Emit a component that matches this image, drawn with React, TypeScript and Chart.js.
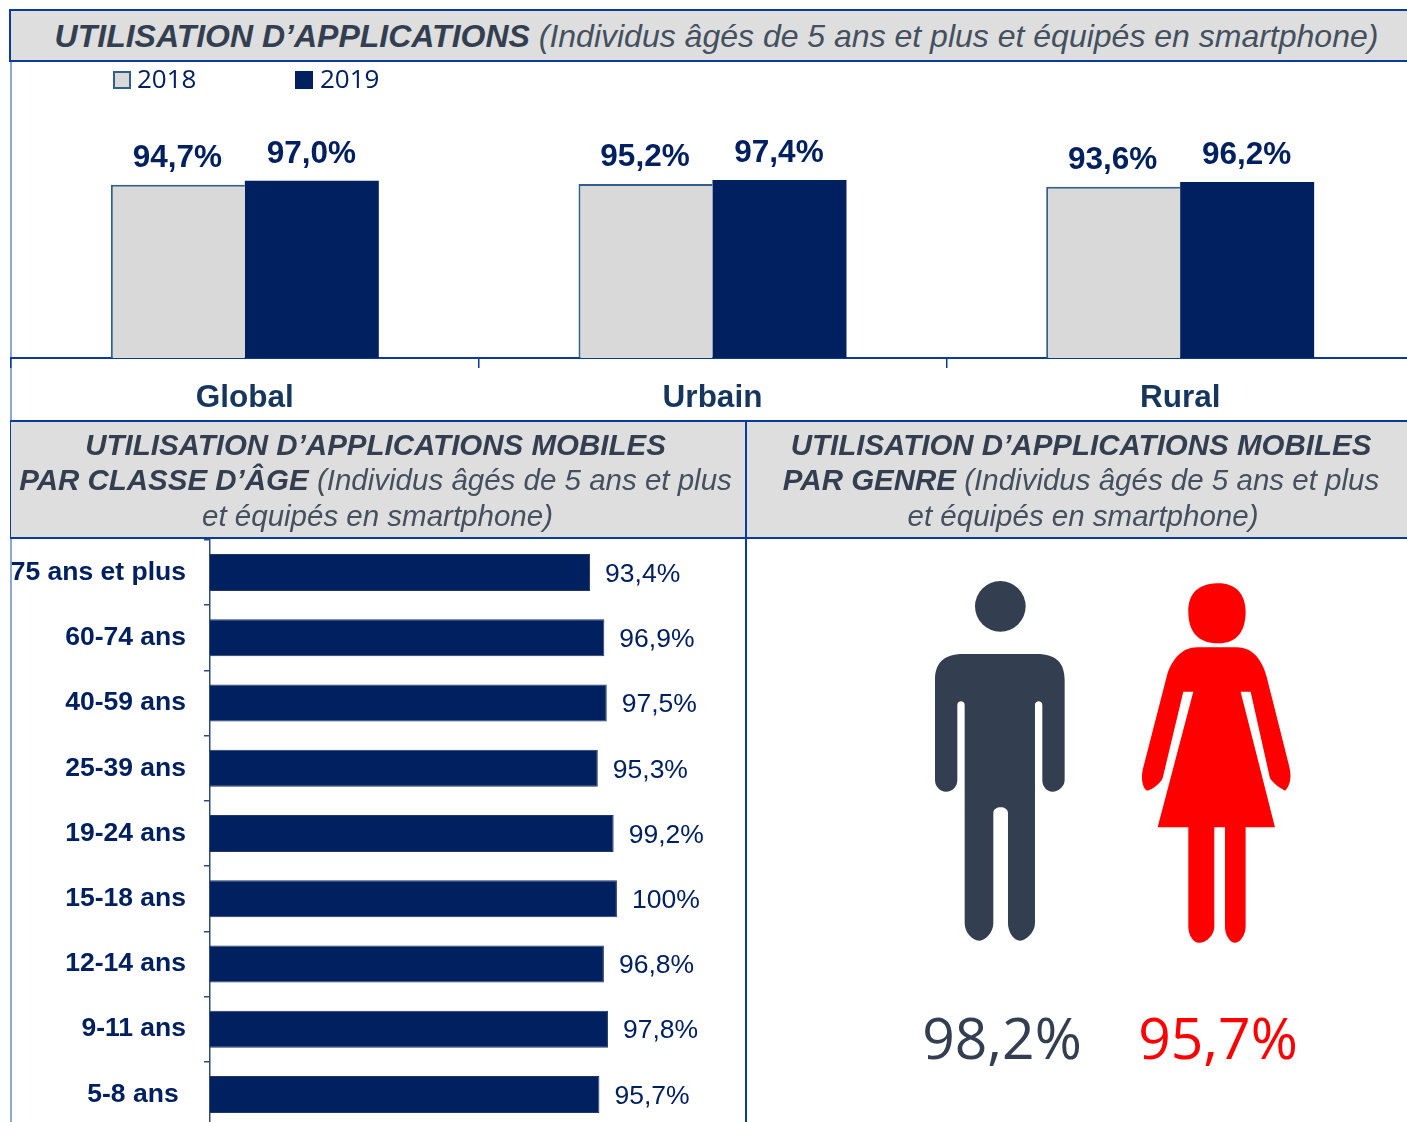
import React, { useEffect, useRef } from "react";
import { Chart, registerables } from "chart.js";

Chart.register(...registerables);

const areas = ["Global", "Urbain", "Rural"];
const values2018 = [94.7, 95.2, 93.6];
const values2019 = [97.0, 97.4, 96.2];
const ageClasses = ["75 ans et plus", "60-74 ans", "40-59 ans", "25-39 ans", "19-24 ans", "15-18 ans", "12-14 ans", "9-11 ans", "5-8 ans "];
const ageValues = [93.4, 96.9, 97.5, 95.3, 99.2, 100, 96.8, 97.8, 95.7];
const legendItems = ["2018", "2019"];
const genderValues = ["98,2%", "95,7%"];

const NAVY = "#002060";
const GREY = "#D9D9D9";
const LINE = "#0A3A9E";
const SLATE = "#333F50";
const SANS = "'Liberation Sans', Arial, sans-serif";

const fmtFr = (v: number, d: number) => v.toFixed(d).replace(".", ",") + "%";

const topLabels = {
  id: "topLabels",
  afterDatasetsDraw(chart: any) {
    const { ctx } = chart;
    ctx.save();
    ctx.font = `bold 31.5px ${SANS}`;
    ctx.fillStyle = NAVY;
    ctx.textAlign = "center";
    ctx.textBaseline = "alphabetic";
    chart.data.datasets.forEach((ds: any, i: number) => {
      chart.getDatasetMeta(i).data.forEach((bar: any, j: number) => {
        ctx.fillText(fmtFr(ds.data[j], 1), bar.x - 0.5, bar.y - 18);
      });
    });
    ctx.restore();
  },
};

const ageLabels = {
  id: "ageLabels",
  afterDatasetsDraw(chart: any) {
    const { ctx } = chart;
    ctx.save();
    ctx.font = `26.5px ${SANS}`;
    ctx.fillStyle = NAVY;
    ctx.textAlign = "left";
    ctx.textBaseline = "middle";
    const ds = chart.data.datasets[0];
    chart.getDatasetMeta(0).data.forEach((bar: any, j: number) => {
      const v = ds.data[j];
      ctx.fillText(v === 100 ? "100%" : fmtFr(v, 1), bar.x + 15, bar.y + 2);
    });
    ctx.restore();
  },
};

const abs = (l: number, t: number, w: number, h: number, extra: React.CSSProperties = {}): React.CSSProperties => ({
  position: "absolute", left: l, top: t, width: w, height: h, ...extra,
});

const HeadLine = ({ top, left, width, bold, rest, size }: { top: number; left: number; width: number; bold: string; rest?: string; size: number }) => (
  <div style={{ position: "absolute", top, left, width, textAlign: "center", whiteSpace: "nowrap", fontFamily: SANS, fontStyle: "italic", fontSize: size, lineHeight: "36px", color: SLATE }}>
    <b>{bold}</b>{rest ? <span style={{ color: "#44505F" }}>{rest}</span> : null}
  </div>
);

export default function App() {
  const topRef = useRef<HTMLCanvasElement>(null);
  const ageRef = useRef<HTMLCanvasElement>(null);

  useEffect(() => {
    const top = new Chart(topRef.current!, {
      type: "bar",
      data: {
        labels: areas,
        datasets: [
          { label: legendItems[0], data: values2018, backgroundColor: GREY, borderColor: "#2F5F8A", borderWidth: { top: 2, left: 2, right: 0, bottom: 0 } as any, borderSkipped: false as any },
          { label: legendItems[1], data: values2019, backgroundColor: NAVY, borderColor: NAVY, borderWidth: 0 },
        ],
      },
      options: {
        responsive: false,
        animation: false,
        layout: { padding: { top: 40, left: 1, right: 0, bottom: 0 } },
        plugins: { legend: { display: false }, tooltip: { enabled: false } },
        scales: {
          x: {
            offset: true,
            grid: { drawOnChartArea: false, color: LINE, tickLength: 10, lineWidth: 1.5 },
            border: { color: LINE, width: 2 },
            ticks: { color: "#17365D", font: { family: SANS, size: 31.5, weight: "bold" }, padding: 11, maxRotation: 0 },
            afterFit: (s: any) => { s.height = 62; },
          } as any,
          y: { display: false, min: 0, max: 140 },
        },
        datasets: { bar: { categoryPercentage: 0.573, barPercentage: 1 } },
      } as any,
      plugins: [topLabels],
    });

    const age = new Chart(ageRef.current!, {
      type: "bar",
      data: {
        labels: ageClasses,
        datasets: [{ label: "Utilisation", data: ageValues, backgroundColor: NAVY, borderColor: "#1F3864", borderWidth: 1 }],
      },
      options: {
        indexAxis: "y",
        responsive: false,
        animation: false,
        layout: { padding: { top: 2, left: 0, right: 0, bottom: 0 } },
        plugins: { legend: { display: false }, tooltip: { enabled: false } },
        scales: {
          x: { display: false, min: 0, max: 130 },
          y: {
            offset: true,
            grid: { drawOnChartArea: false, color: "#2F4B7C", tickLength: 6, lineWidth: 1.5 },
            border: { color: "#2F4B7C", width: 1.5 },
            ticks: { color: NAVY, font: { family: SANS, size: 26.5, weight: "bold" }, padding: 18, autoSkip: false },
            afterFit: (s: any) => { s.width = 210; s.paddingTop = 0; s.paddingBottom = 0; },
          } as any,
        },
        datasets: { bar: { categoryPercentage: 1, barPercentage: 0.567 } },
      } as any,
      plugins: [ageLabels],
    });

    return () => { top.destroy(); age.destroy(); };
  }, []);

  return (
    <div style={abs(0, 0, 1407, 1122, { overflow: "hidden", background: "#fff" })}>
      {/* frame lines */}
      <div style={abs(10, 62, 2, 1060, { background: "#8CA6DB" })} />
      <div style={abs(745, 421, 2, 701, { background: LINE })} />

      {/* top chart */}
      <canvas ref={topRef} width={1404} height={358} style={abs(10, 62, 1404, 358, { display: "block" })} />
      {/* age chart */}
      <canvas ref={ageRef} width={739} height={589} style={abs(0, 538, 739, 589, { display: "block" })} />

      {/* headers */}
      <div style={abs(9, 9, 1398, 53, { background: "#DEDEDE", borderTop: `2px solid ${LINE}`, borderLeft: `2px solid ${LINE}`, borderBottom: `2px solid ${LINE}`, boxSizing: "border-box" })} />
      <div style={abs(10, 420, 1397, 119, { background: "#DEDEDE", borderTop: `2px solid ${LINE}`, borderLeft: `1.5px solid ${LINE}`, borderBottom: `2px solid ${LINE}`, boxSizing: "border-box" })} />
      <div style={abs(745, 421, 2, 118, { background: LINE })} />

      <HeadLine top={18} left={10} width={1413} size={32} bold="UTILISATION D’APPLICATIONS" rest=" (Individus âgés de 5 ans et plus et équipés en smartphone)" />

      <HeadLine top={427} left={8} width={735} size={29.5} bold="UTILISATION D’APPLICATIONS MOBILES" />
      <HeadLine top={462} left={8} width={735} size={29.5} bold="PAR CLASSE D’ÂGE" rest=" (Individus âgés de 5 ans et plus" />
      <HeadLine top={498} left={10} width={735} size={29.5} rest="et équipés en smartphone)" bold="" />

      <HeadLine top={427} left={716} width={730} size={29.5} bold="UTILISATION D’APPLICATIONS MOBILES" />
      <HeadLine top={462} left={716} width={730} size={29.5} bold="PAR GENRE" rest=" (Individus âgés de 5 ans et plus" />
      <HeadLine top={498} left={718} width={730} size={29.5} rest="et équipés en smartphone)" bold="" />

      {/* legend */}
      <div style={abs(113, 71, 14, 14, { background: GREY, border: "2px solid #2F5F8A" })} />
      <div style={{ position: "absolute", left: 137, top: 61, fontFamily: "'Open Sans', sans-serif", fontSize: 26, lineHeight: "34px", color: NAVY }}>{legendItems[0]}</div>
      <div style={abs(295, 71, 18, 18, { background: NAVY })} />
      <div style={{ position: "absolute", left: 320, top: 61, fontFamily: "'Open Sans', sans-serif", fontSize: 26, lineHeight: "34px", color: NAVY }}>{legendItems[1]}</div>

      {/* gender figures */}
      <svg width={1407} height={1122} style={abs(0, 0, 1407, 1122, { pointerEvents: "none" })}>
        <g transform="translate(900,560) scale(0.3333)">
          <circle cx={301} cy={139} r={76} fill={SLATE} />
          <path fill={SLATE} d="M190,282 H410 C470,282 494,310 494,360 V660 C494,680 475,695 458,695 C440,695 427,680 427,660 V435 C427,420 405,420 405,435 V1090 C405,1115 380,1142 360,1142 C340,1142 324,1115 324,1090 V760 C324,736 280,736 280,760 V1090 C280,1115 258,1142 238,1142 C215,1142 194,1115 194,1090 V435 C194,420 172,420 172,435 V660 C172,680 158,695 138,695 C120,695 105,680 105,660 V360 C105,310 130,282 190,282 Z" />
          <path fill="#FF0000" d="M950,70 C1005,68 1037,100 1037,155 C1037,215 1010,250 955,250 C895,250 865,215 865,155 C865,100 895,72 950,70 Z" />
          <path fill="#FF0000" d="M890,262 H1010 C1055,262 1085,295 1100,350 L1168,620 C1176,650 1170,680 1155,692 C1140,685 1120,670 1110,655 L1052,395 H1022 L1125,802 H1037 V1100 C1037,1125 1020,1148 1005,1148 C990,1148 975,1125 975,1100 V802 H943 V1100 C943,1125 920,1148 897,1148 C880,1148 865,1125 865,1100 V802 H773 L880,395 H850 L788,655 C780,672 755,690 742,692 C730,690 722,660 728,630 L800,350 C815,295 850,262 890,262 Z" />
        </g>
      </svg>
      <div style={{ position: "absolute", left: 902, width: 200, top: 998, textAlign: "center", fontFamily: "'Open Sans', sans-serif", fontSize: 57, lineHeight: "78px", color: SLATE }}>{genderValues[0]}</div>
      <div style={{ position: "absolute", left: 1118, width: 200, top: 998, textAlign: "center", fontFamily: "'Open Sans', sans-serif", fontSize: 57, lineHeight: "78px", color: "#FF0000" }}>{genderValues[1]}</div>
    </div>
  );
}
